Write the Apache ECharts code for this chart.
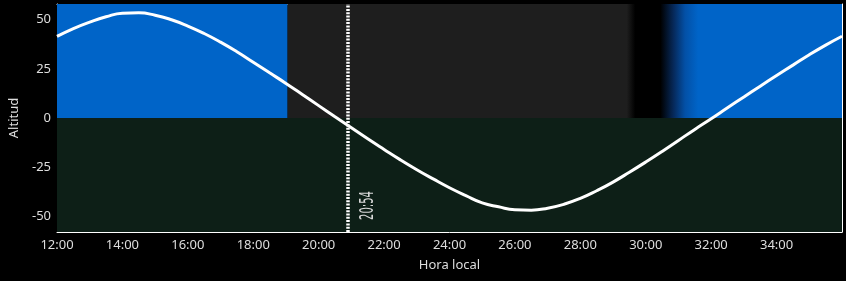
<!DOCTYPE html>
<html>
<head>
<meta charset="utf-8">
<script src="https://cdn.jsdelivr.net/npm/echarts@6/dist/echarts.min.js"></script>
<style>
html,body{margin:0;padding:0;background:#000;}
#c{width:846px;height:281px;}
</style>
</head>
<body>
<div id="c"></div>
<script>
// ---- data ----
const hours = [12, 12.5, 13, 13.5, 14, 14.5, 15, 15.5, 16, 16.5, 17, 17.5, 18, 18.5, 19, 19.5, 20, 20.5,
  21, 21.5, 22, 22.5, 23, 23.5, 24, 24.5, 25, 25.5, 26, 26.5, 27, 27.5, 28, 28.5, 29, 29.5,
  30, 30.5, 31, 31.5, 32, 32.5, 33, 33.5, 34, 34.5, 35, 35.5, 36];
const altitude = [41.5, 45.5, 48.8, 51.5, 53.3, 53.5, 52.3, 50.0, 46.8, 43.0, 38.6, 33.7, 28.4, 23.0, 17.6, 12.0, 6.3, 0.6,
  -5.0, -10.6, -16.0, -21.3, -26.3, -31.0, -35.5, -39.5, -43.2, -45.2, -46.7, -46.9, -45.9, -43.9, -40.9, -37.0, -32.6, -27.6,
  -22.4, -17.0, -11.4, -5.8, -0.4, 5.2, 10.7, 16.2, 21.6, 26.9, 32.2, 37.1, 41.6];
const xRange = [12, 36];
const yRange = [-58, 58];
const yMajorTicks = [-50, -25, 0, 25, 50];
const yMinorTicks = [-55, -45, -40, -35, -30, -20, -15, -10, -5, 5, 10, 15, 20, 30, 35, 40, 45, 55];
const daylightEnd = 19.05;                                   // end of blue sky band
const skyStopTimes = [29.42, 29.68, 30.45, 30.85, 31.2, 31.6]; // night -> dawn transition
const eventTime = 20.9;
const eventLabel = '20:54';

// ---- styles ----
const TXT = '#dddddd';
const BLUE = '#0064c8';
const GRAY = '#1e1e1e';
const GREEN = '#0d1f17';
const FONT = '"Noto Sans", "Open Sans", sans-serif';

const frac = t => (t - daylightEnd) / (xRange[1] - daylightEnd);
const nightGradient = new echarts.graphic.LinearGradient(0, 0, 1, 0, [
  { offset: 0, color: GRAY },
  { offset: frac(skyStopTimes[0]), color: GRAY },
  { offset: frac(skyStopTimes[1]), color: '#000000' },
  { offset: frac(skyStopTimes[2]), color: '#000000' },
  { offset: frac(skyStopTimes[3]), color: '#06295a' },
  { offset: frac(skyStopTimes[4]), color: '#0350a6' },
  { offset: frac(skyStopTimes[5]), color: BLUE },
  { offset: 1, color: BLUE }
]);

const fmtHour = v => String(v).padStart(2, '0') + ':00';

const axisLine = { show: true, onZero: false, lineStyle: { color: '#ffffff', width: 1 } };

const xCommon = {
  type: 'value', min: xRange[0], max: xRange[1], interval: 2,
  axisLine: axisLine,
  axisTick: { show: true, inside: true, length: 5, lineStyle: { color: '#ffffff' } },
  minorTick: { show: true, splitNumber: 4, length: 3, lineStyle: { color: '#ffffff' } },
  splitLine: { show: false }, minorSplitLine: { show: false }
};

const chart = echarts.init(document.getElementById('c'), null, { renderer: 'canvas' });

const option = {
  backgroundColor: '#000000',
  animation: false,
  grid: { left: 57, right: 4, top: 4, bottom: 49, containLabel: false, outerBoundsMode: 'none' },
  xAxis: [
    Object.assign({}, xCommon, {
      position: 'bottom',
      axisLabel: { color: TXT, fontSize: 13, fontFamily: FONT, margin: 7, formatter: fmtHour, showMaxLabel: false },
      name: 'Hora local', nameLocation: 'middle', nameGap: 27,
      nameTextStyle: { color: TXT, fontSize: 13, fontFamily: FONT }
    }),
    Object.assign({}, xCommon, { position: 'top', axisLabel: { show: false } })
  ],
  yAxis: [
    {
      type: 'value', min: yRange[0], max: yRange[1], position: 'left',
      axisLine: axisLine,
      axisTick: { show: true, inside: true, length: 5, customValues: yMajorTicks, lineStyle: { color: '#ffffff' } },
      axisLabel: { color: TXT, fontSize: 13, fontFamily: FONT, margin: 6, customValues: yMajorTicks },
      splitLine: { show: false },
      name: 'Altitud', nameLocation: 'middle', nameGap: 36,
      nameTextStyle: { color: TXT, fontSize: 13, fontFamily: FONT }
    },
    {
      type: 'value', min: yRange[0], max: yRange[1], position: 'left',
      axisLine: { show: false },
      axisTick: { show: true, inside: true, length: 3, customValues: yMinorTicks, lineStyle: { color: '#ffffff' } },
      axisLabel: { show: false }, splitLine: { show: false }
    },
    {
      type: 'value', min: yRange[0], max: yRange[1], position: 'right',
      axisLine: axisLine,
      axisTick: { show: true, inside: true, length: 5, customValues: yMajorTicks, lineStyle: { color: '#ffffff' } },
      axisLabel: { show: false }, splitLine: { show: false }
    },
    {
      type: 'value', min: yRange[0], max: yRange[1], position: 'right',
      axisLine: { show: false },
      axisTick: { show: true, inside: true, length: 3, customValues: yMinorTicks, lineStyle: { color: '#ffffff' } },
      axisLabel: { show: false }, splitLine: { show: false }
    }
  ],
  series: [
    {
      name: 'sky', type: 'line', data: [], xAxisIndex: 0, yAxisIndex: 0, z: 1, silent: true,
      markArea: {
        silent: true,
        label: { show: false },
        data: [
          [{ xAxis: xRange[0], yAxis: yRange[0], itemStyle: { color: GREEN, opacity: 1 } }, { xAxis: xRange[1], yAxis: 0 }],
          [{ xAxis: xRange[0], yAxis: 0, itemStyle: { color: BLUE, opacity: 1 } }, { xAxis: daylightEnd, yAxis: yRange[1] }],
          [{ xAxis: daylightEnd, yAxis: 0, itemStyle: { color: nightGradient, opacity: 1 } }, { xAxis: xRange[1], yAxis: yRange[1] }]
        ]
      }
    },
    {
      name: 'Altitud', type: 'line', xAxisIndex: 0, yAxisIndex: 0, z: 3,
      data: hours.map((h, i) => [h, altitude[i]]),
      smooth: true, showSymbol: false, symbol: 'none',
      lineStyle: { color: '#ffffff', width: 3 },
      markLine: {
        silent: true, symbol: ['none', 'none'], animation: false,
        label: { show: false },
        lineStyle: { color: '#ffffff', width: 3.5, type: [2, 1.3], opacity: 1 },
        data: [{ xAxis: eventTime }]
      }
    }
  ]
};

chart.setOption(option);

const px = chart.convertToPixel({ xAxisIndex: 0 }, eventTime);
const pyBottom = chart.convertToPixel({ yAxisIndex: 0 }, yRange[0]);
chart.setOption({
  graphic: [{
    type: 'text', x: px + 19.5, y: pyBottom - 26.5, rotation: Math.PI / 2, scaleX: 0.5, z: 10, silent: true,
    style: {
      text: eventLabel, fill: '#d8d8d8', font: '20px "DejaVu Sans"',
      align: 'center', verticalAlign: 'middle', textAlign: 'center', textVerticalAlign: 'middle'
    }
  }]
});
</script>
</body>
</html>
